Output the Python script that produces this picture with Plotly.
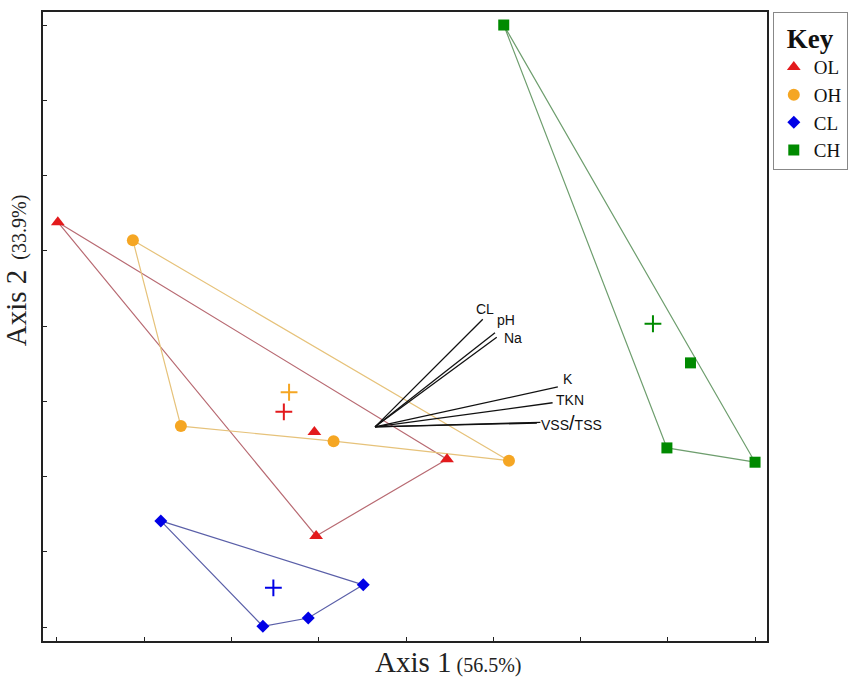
import plotly.graph_objects as go

# ---- data (axis units: ticks at 0..8) ----
groups = ["OL", "OH", "CL", "CH"]

ol_x = [0.01, 4.47, 2.97, 2.95]
ol_y = [5.38, 2.23, 1.21, 2.59]
oh_x = [0.87, 5.18, 3.17, 1.42]
oh_y = [5.14, 2.21, 2.47, 2.67]
cl_x = [1.19, 3.51, 2.88, 2.36]
cl_y = [1.41, 0.56, 0.12, 0.01]
ch_x = [5.12, 8.00, 6.99, 7.26]
ch_y = [8.00, 2.19, 2.38, 3.51]

# hull vertex order (indices into each group)
ol_hull = [0, 1, 2, 0]
oh_hull = [0, 1, 2, 3, 0]
cl_hull = [0, 1, 2, 3, 0]
ch_hull = [0, 1, 2, 0]

# group centroids (+)
cent_x = [2.60, 2.66, 2.48, 6.83]
cent_y = [2.86, 3.12, 0.52, 4.03]

# biplot vectors
vec_origin = (3.645, 2.66)
vec_names = ["CL", "pH", "Na", "K", "TKN", "VSS", "TSS"]
vec_x = [4.88, 5.02, 5.04, 5.74, 5.68, 5.50, 5.54]
vec_y = [4.09, 3.91, 3.85, 3.19, 2.98, 2.71, 2.72]

x_ticks = [0, 1, 2, 3, 4, 5, 6, 7, 8]
y_ticks = [0, 1, 2, 3, 4, 5, 6, 7, 8]

# ---- styles ----
marker_col = {"OL": "#e31a1c", "OH": "#f5a623", "CL": "#0000e6", "CH": "#008a00"}
hull_col = {"OL": "#b86a72", "OH": "#e6c27a", "CL": "#5a5fa8", "CH": "#6e9e6e"}
symbols = {"OL": "triangle-up", "OH": "circle", "CL": "diamond", "CH": "square"}
sizes = {"OL": 12, "OH": 12, "CL": 10, "CH": 11}

data = {
    "OL": (ol_x, ol_y, ol_hull),
    "OH": (oh_x, oh_y, oh_hull),
    "CL": (cl_x, cl_y, cl_hull),
    "CH": (ch_x, ch_y, ch_hull),
}

fig = go.Figure()

# hulls
for g in groups:
    xs, ys, hull = data[g]
    fig.add_trace(go.Scatter(
        x=[xs[i] for i in hull], y=[ys[i] for i in hull], mode="lines",
        line=dict(color=hull_col[g], width=1.2), showlegend=False, hoverinfo="skip"))

# vectors
for nm, vx, vy in zip(vec_names, vec_x, vec_y):
    fig.add_trace(go.Scatter(
        x=[vec_origin[0], vx], y=[vec_origin[1], vy], mode="lines",
        line=dict(color="#111111", width=1.3), showlegend=False, hoverinfo="skip"))

# points
for g in groups:
    xs, ys, _ = data[g]
    fig.add_trace(go.Scatter(
        x=xs, y=ys, mode="markers", name=g,
        marker=dict(symbol=symbols[g], size=sizes[g], color=marker_col[g],
                    line=dict(width=0))))

# centroids
for g, cx, cy in zip(groups, cent_x, cent_y):
    fig.add_trace(go.Scatter(
        x=[cx], y=[cy], mode="markers", showlegend=False,
        marker=dict(symbol="cross-thin", size=12, color=marker_col[g],
                    line=dict(width=2, color=marker_col[g]))))

# vector labels
lab_font = dict(family="Liberation Sans, Arial", size=14, color="#111111")
label_cfg = {
    "CL": dict(idx=0, text="CL", xanchor="center", yanchor="bottom", xshift=2, yshift=0),
    "pH": dict(idx=1, text="pH", xanchor="left", yanchor="bottom", xshift=0, yshift=3),
    "Na": dict(idx=2, text="Na", xanchor="left", yanchor="middle", xshift=5, yshift=-1),
    "K": dict(idx=3, text="K", xanchor="left", yanchor="bottom", xshift=3, yshift=-2),
    "TKN": dict(idx=4, text="TKN", xanchor="left", yanchor="middle", xshift=1, yshift=3),
    "VT": dict(idx=5, text="VSS<span style='font-size:20px'>/</span>TSS", xanchor="left",
               yanchor="middle", xshift=2, yshift=0),
}
for k, c in label_cfg.items():
    fig.add_annotation(x=vec_x[c["idx"]], y=vec_y[c["idx"]], text=c["text"],
                       showarrow=False, xanchor=c["xanchor"], yanchor=c["yanchor"],
                       xshift=c["xshift"], yshift=c["yshift"], font=lab_font)

serif = "Liberation Serif, Times New Roman, serif"
fig.add_annotation(xref="paper", yref="paper", x=0.56, y=-0.004, yanchor="top",
                   text="<span style='font-size:29px'>Axis 1</span>"
                        "<span style='font-size:20px'> (56.5%)</span>",
                   showarrow=False, font=dict(family=serif, color="#222"))
fig.add_annotation(xref="paper", yref="paper", x=-0.012, y=0.59, xanchor="right",
                   textangle=-90,
                   text="<span style='font-size:29px'>Axis 2</span>"
                        "<span style='font-size:20px'>  (33.9%)</span>",
                   showarrow=False, font=dict(family=serif, color="#222"))

axis_common = dict(showgrid=False, zeroline=False, showticklabels=False,
                   ticks="inside", ticklen=4, tickwidth=1.2, tickcolor="#222",
                   showline=True, linecolor="#222", linewidth=2, mirror=True)
fig.update_xaxes(range=[-0.16, 8.137], tickvals=x_ticks, **axis_common)
fig.update_yaxes(range=[-0.186, 8.173], tickvals=y_ticks, **axis_common)

fig.update_layout(
    width=854, height=680,
    margin=dict(l=43, r=87, t=12, b=39, autoexpand=False),
    plot_bgcolor="white", paper_bgcolor="white",
    legend=dict(
        title=dict(text="<b>Key</b>", font=dict(family=serif, size=27, color="#111"),
                   side="top center"),
        font=dict(family=serif, size=19, color="#111"),
        x=1.008, y=1.0, xanchor="left", yanchor="top",
        bordercolor="#888", borderwidth=1, bgcolor="white",
        itemwidth=30, tracegroupgap=0,
    ),
)

fig.write_html("out.html")
